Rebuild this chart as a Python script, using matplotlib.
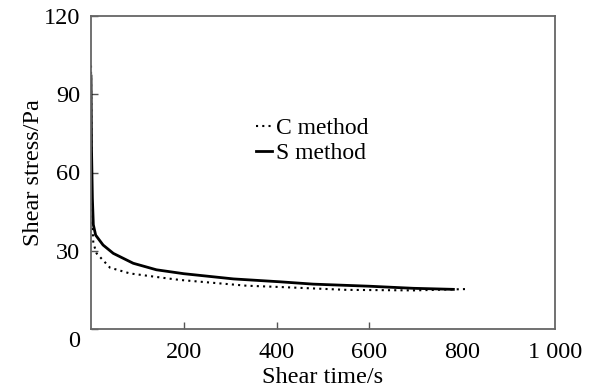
import numpy as np
import matplotlib.pyplot as plt
import matplotlib.transforms as mtransforms

plt.rcParams['font.family'] = ['Liberation Serif', 'DejaVu Serif']

# S method (solid)
t_s = [0, 1, 3, 5, 10, 26, 48, 91, 141, 200, 307, 407, 479, 600, 695, 781]
tau_s = [97, 70, 50, 40, 36, 32.2, 29, 25.2, 22.7, 21.2, 19.2, 18.1, 17.2, 16.4, 15.6, 15.2]

# C method (dotted)
t_c = [0, 1, 3, 5, 12, 41, 84, 156, 192, 335, 407, 551, 695, 806]
tau_c = [101, 60, 40, 33, 29, 23.5, 21.3, 19.6, 18.8, 16.6, 16.1, 15.0, 14.8, 15.3]

fig = plt.figure(figsize=(5.9, 3.9), dpi=100)
ax = fig.add_axes([91/590, 1-329/390, (555-91)/590, (329-16)/390])

ax.plot(t_c, tau_c, color='black', linestyle=(0, (1, 2)), linewidth=1.5, label='C method')
ax.plot(t_s, tau_s, color='black', linewidth=2, label='S method')

ax.set_xlim(0, 1000)
ax.set_ylim(0, 120)
ax.set_xticks([0, 200, 400, 600, 800, 1000])
ax.set_xticklabels(['', '200', '400', '600', '800', '1 000'])
ax.set_yticks([0, 30, 60, 90, 120])
ax.tick_params(direction='in', length=5, width=1, color='#555555', labelsize=17.5)
ax.tick_params(axis='x', top=False, pad=9)
ax.tick_params(axis='y', pad=8)
for i in (0, 4, 5):
    ax.xaxis.get_major_ticks()[i].tick1line.set_visible(False)
# origin label sits a bit lower, like in the source figure
lbl0 = ax.yaxis.get_major_ticks()[0].label1
lbl0.set_transform(lbl0.get_transform() + mtransforms.ScaledTranslation(0, -0.1, fig.dpi_scale_trans))
for s in ax.spines.values():
    s.set_color('#666666')
    s.set_linewidth(1.3)

ax.set_xlabel('Shear time/s', fontsize=17.5, labelpad=3)
ax.set_ylabel('Shear stress/Pa', fontsize=17.5, labelpad=0)

ax.legend(loc='upper left', bbox_to_anchor=(0.33, 0.713), frameon=False, fontsize=17,
          handlelength=0.7, handletextpad=0.15, labelspacing=0.15, borderpad=0)

fig.savefig('out.png', dpi=100)
